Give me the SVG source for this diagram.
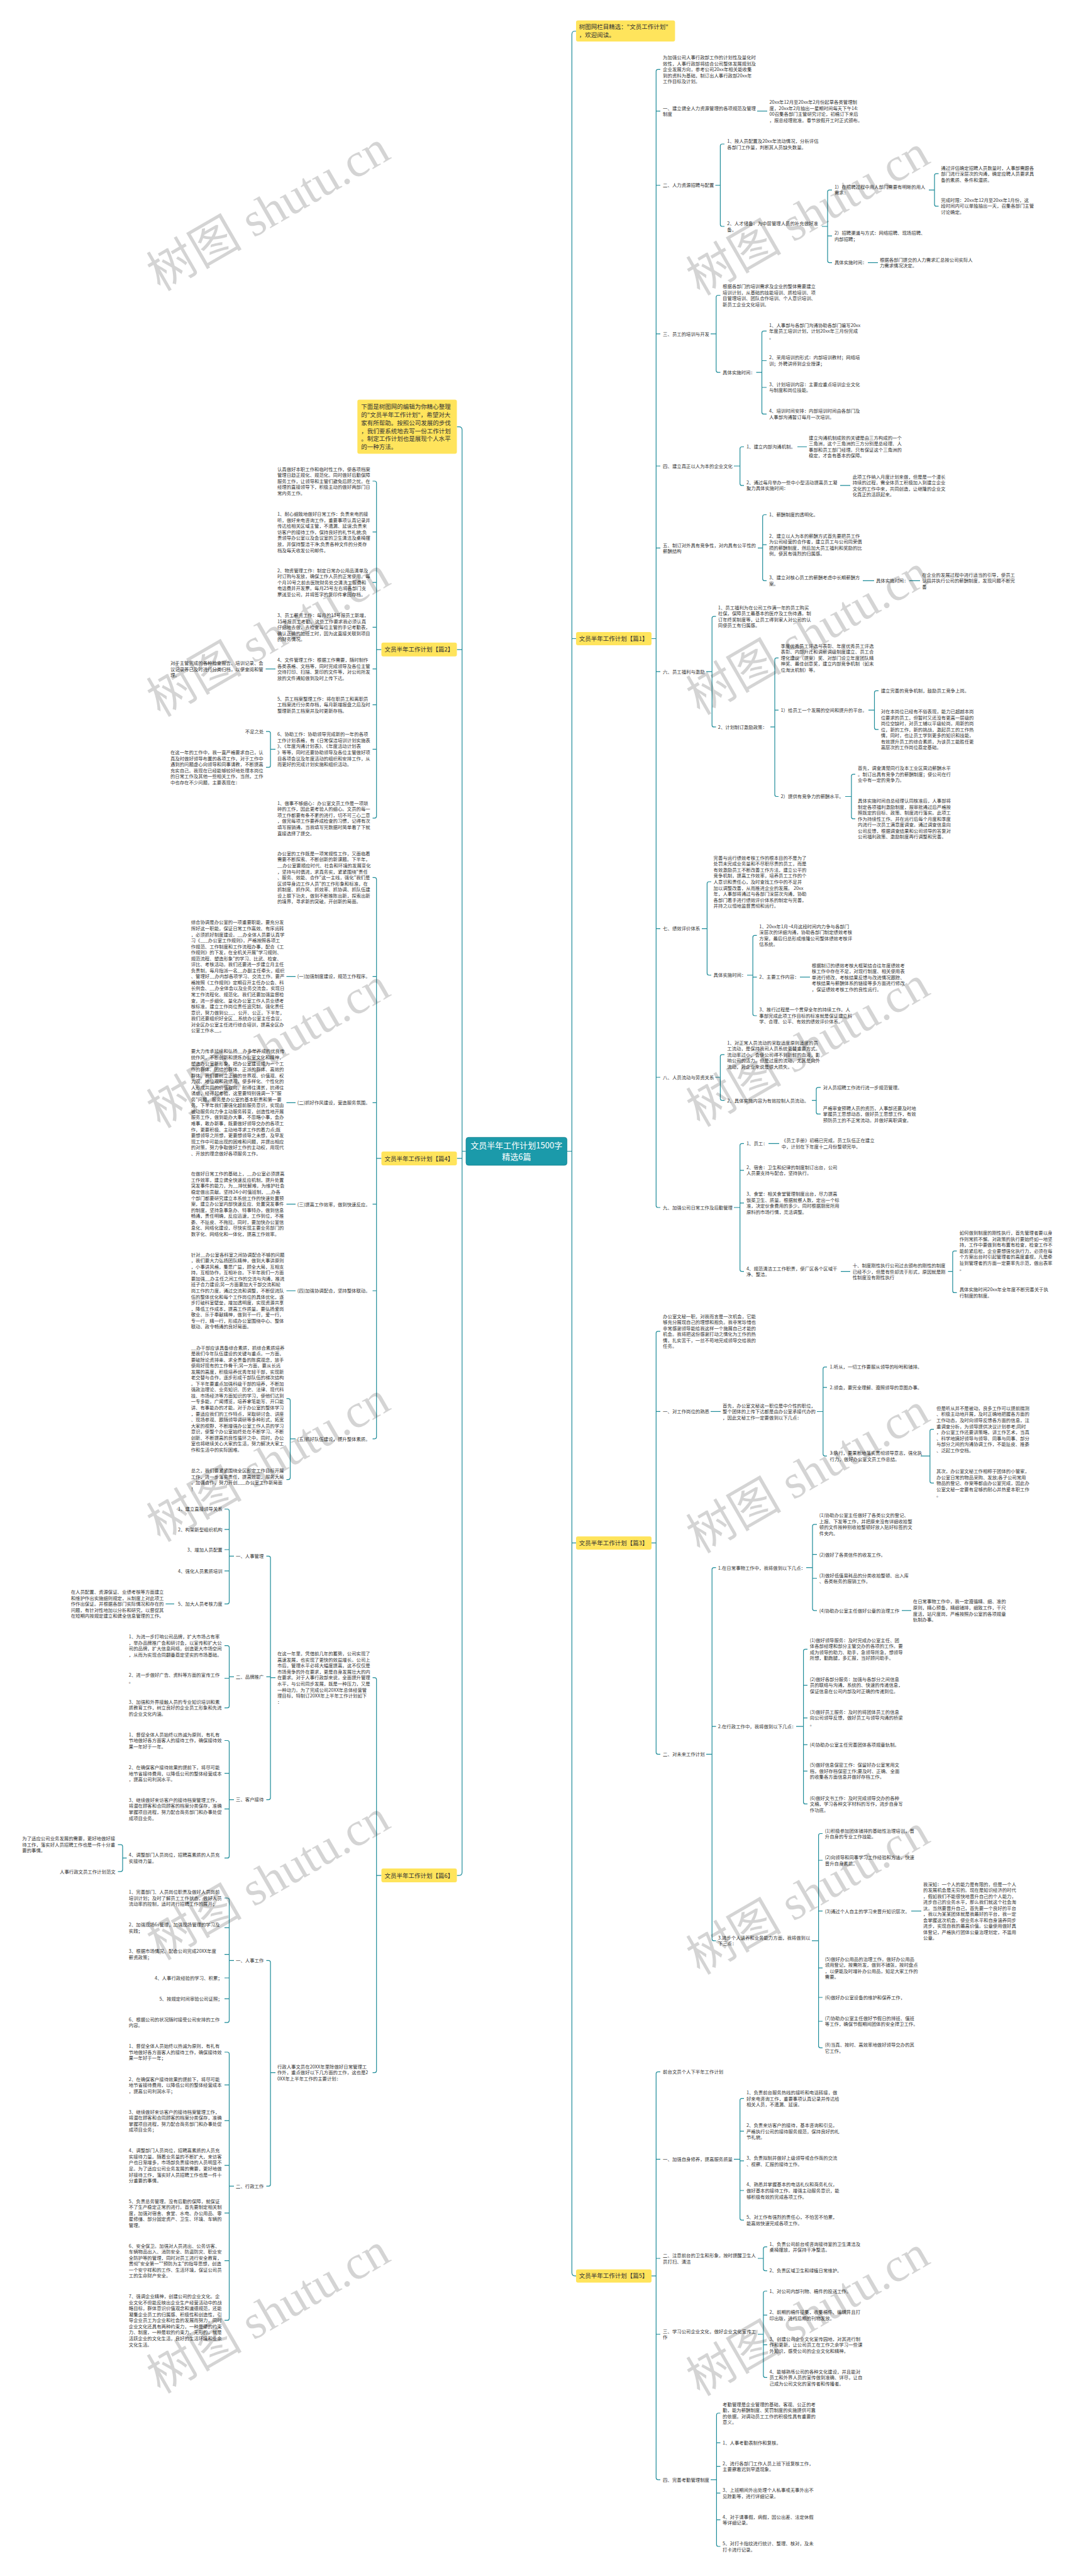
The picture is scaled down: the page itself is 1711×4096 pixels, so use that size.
<svg xmlns="http://www.w3.org/2000/svg" width="1711" height="4096" viewBox="0 0 1711 4096">
<style>
.t{font-family:"Noto Sans CJK SC","Noto Sans",sans-serif;font-size:7.4px;fill:#333}
.e{text-anchor:end}
.l{font-family:"Noto Sans CJK SC","Noto Sans",sans-serif;font-size:9.5px;fill:#333}
.y{fill:#ffe45c}
.c{fill:none;stroke:#1e8c99;stroke-width:1.2}
.w{font-family:"Liberation Serif","Noto Sans CJK SC",serif;font-size:76px;fill:#000;fill-opacity:0.17;text-anchor:middle}
</style>
<rect width="1711" height="4096" fill="#fff"/>
<g id="connectors" class="c">
<path d="M916 49.5H914.4Q909.4 49.5 909.4 54.5V3613.8Q909.4 3618.8 914.4 3618.8H916M909.4 1015.5H916M909.4 2453.4H916M901.6 1830.5H909.4"/>
<path d="M726.5 678.6H729.8Q734.8 678.6 734.8 683.6V2977.1Q734.8 2982.1 729.8 2982.1H726.5M734.8 1032.8H726.5M734.8 1841.9H726.5M740.7 1830.5H734.8"/>
<path d="M1050 110.3H1046.3Q1043.3 110.3 1043.3 113.3V1917Q1043.3 1920 1046.3 1920H1050M1036 1015.5H1043.3M1043.3 176.6H1050M1043.3 294.5H1050M1043.3 530.8H1050M1043.3 741H1050M1043.3 871.4H1050M1043.3 1067.9H1050M1043.3 1476.6H1050M1043.3 1713H1050"/>
<path d="M1204 176.6H1220"/>
<path d="M1152 229H1148.4Q1145.4 229 1145.4 232V357Q1145.4 360 1148.4 360H1152M1137.5 294.5H1145.4"/>
<path d="M1323 302.1H1319Q1316 302.1 1316 305.1V414.6Q1316 417.6 1319 417.6H1323M1307 360H1316M1316 375.2H1323"/>
<path d="M1492.5 276.1H1489Q1486 276.1 1486 279.1V324.9Q1486 327.9 1489 327.9H1492.5M1477 302.1H1486"/>
<path d="M1380 417.6H1396"/>
<path d="M1145.5 469.5H1141.8Q1138.8 469.5 1138.8 472.5V589.1Q1138.8 592.1 1141.8 592.1H1145.5M1130 530.8H1138.8"/>
<path d="M1219 526.4H1214.5Q1211.5 526.4 1211.5 529.4V655.4Q1211.5 658.4 1214.5 658.4H1219M1202.5 592.1H1211.5M1211.5 573.5H1219M1211.5 616H1219"/>
<path d="M1183 710.5H1179.7Q1176.7 710.5 1176.7 713.5V768.9Q1176.7 771.9 1179.7 771.9H1183M1167 741H1176.7"/>
<path d="M1268 710.5H1283M1336 771.9H1352"/>
<path d="M1219 818.5H1215.7Q1212.7 818.5 1212.7 821.5V920.3Q1212.7 923.3 1215.7 923.3H1219M1205 871.4H1212.7M1212.7 866.1H1219"/>
<path d="M1372 923.3H1390M1446 923.3H1463"/>
<path d="M1138.5 980.1H1135.2Q1132.2 980.1 1132.2 983.1V1152.9Q1132.2 1155.9 1135.2 1155.9H1138.5M1123 1067.9H1132.2"/>
<path d="M1238 1046.1H1235Q1232 1046.1 1232 1049.1V1263.5Q1232 1266.5 1235 1266.5H1238M1225 1155.9H1232M1232 1129.2H1238"/>
<path d="M1397 1098.3H1393.5Q1390.5 1098.3 1390.5 1101.3V1156.9Q1390.5 1159.9 1393.5 1159.9H1397M1381 1129.2H1390.5"/>
<path d="M1360 1231.1H1356.9Q1353.9 1231.1 1353.9 1234.1V1298.9Q1353.9 1301.9 1356.9 1301.9H1360M1344 1266.5H1353.9"/>
<path d="M1131 1402H1127.4Q1124.4 1402 1124.4 1405V1547.5Q1124.4 1550.5 1127.4 1550.5H1131M1116 1476.6H1124.4"/>
<path d="M1203.5 1487.4H1200.1Q1197.1 1487.4 1197.1 1490.4V1612Q1197.1 1615 1200.1 1615H1203.5M1188 1550.5H1197.1M1197.1 1553.6H1203.5"/>
<path d="M1272 1553.6H1288"/>
<path d="M1152 1676.8H1148.4Q1145.4 1676.8 1145.4 1679.8V1746.7Q1145.4 1749.7 1148.4 1749.7H1152M1137.5 1713H1145.4"/>
<path d="M1305 1729.2H1301Q1298 1729.2 1298 1732.2V1768.4Q1298 1771.4 1301 1771.4H1305M1291 1749.7H1298"/>
<path d="M1183 1818.3H1179.7Q1176.7 1818.3 1176.7 1821.3V2018.7Q1176.7 2021.7 1179.7 2021.7H1183M1167 1920H1176.7M1176.7 1860.8H1183M1176.7 1912.9H1183"/>
<path d="M1222 1818.3H1239M1337 2021.7H1352"/>
<path d="M1521.5 1989.1H1517.9Q1514.9 1989.1 1514.9 1992.1V2052.4Q1514.9 2055.4 1517.9 2055.4H1521.5M1507.5 2021.6H1514.9"/>
<path d="M1050 2116.8H1046.3Q1043.3 2116.8 1043.3 2119.8V2786.3Q1043.3 2789.3 1046.3 2789.3H1050M1036 2453.4H1043.3M1043.3 2244.3H1050"/>
<path d="M1130 2244.4H1146"/>
<path d="M1315 2173.6H1311.8Q1308.8 2173.6 1308.8 2176.6V2312.1Q1308.8 2315.1 1311.8 2315.1H1315M1299 2244.5H1308.8M1308.8 2206.1H1315"/>
<path d="M1485 2272.6H1481.8Q1478.8 2272.6 1478.8 2275.6V2355.2Q1478.8 2358.2 1481.8 2358.2H1485M1464 2315.1H1478.8"/>
<path d="M1138.5 2492.7H1135.2Q1132.2 2492.7 1132.2 2495.7V3082.9Q1132.2 3085.9 1135.2 3085.9H1138.5M1123 2789.3H1132.2M1132.2 2745.2H1138.5"/>
<path d="M1299 2423.8H1295Q1292 2423.8 1292 2426.8V2557.8Q1292 2560.8 1295 2560.8H1299M1282 2492.7H1292M1292 2471.7H1299M1292 2509.5H1299"/>
<path d="M1434 2560.8H1449"/>
<path d="M1284 2622.4H1280.6Q1277.6 2622.4 1277.6 2625.4V2865.4Q1277.6 2868.4 1280.6 2868.4H1284M1266 2745.2H1277.6M1277.6 2679.6H1284M1277.6 2731.6H1284M1277.6 2774.1H1284M1277.6 2816.2H1284"/>
<path d="M1308 2915.5H1304.6Q1301.6 2915.5 1301.6 2918.5V3253.1Q1301.6 3256.1 1304.6 3256.1H1308M1291 3085.9H1301.6M1301.6 2958H1308M1301.6 3038.7H1308M1301.6 3129.1H1308M1301.6 3176H1308M1301.6 3214H1308"/>
<path d="M1449 3038.7H1465"/>
<path d="M1050 3294.3H1046.3Q1043.3 3294.3 1043.3 3297.3V3939.8Q1043.3 3942.8 1046.3 3942.8H1050M1036 3618.8H1043.3M1043.3 3433.4H1050M1043.3 3591H1050M1043.3 3711.5H1050"/>
<path d="M1183 3336.6H1179.7Q1176.7 3336.6 1176.7 3339.6V3527.2Q1176.7 3530.2 1179.7 3530.2H1183M1167 3433.4H1176.7M1176.7 3388.6H1183M1176.7 3435.9H1183M1176.7 3483H1183"/>
<path d="M1220 3572.7H1216.9Q1213.9 3572.7 1213.9 3575.7V3607.6Q1213.9 3610.6 1216.9 3610.6H1220M1205 3591H1213.9"/>
<path d="M1220 3643H1216.9Q1213.9 3643 1213.9 3646V3777.3Q1213.9 3780.3 1216.9 3780.3H1220M1205 3711.5H1213.9M1213.9 3681.1H1220M1213.9 3728.3H1220"/>
<path d="M1145.5 3837H1142.4Q1139.4 3837 1139.4 3840V4046Q1139.4 4049 1142.4 4049H1145.5M1130 3942.8H1139.4M1139.4 3884.1H1145.5M1139.4 3921.7H1145.5M1139.4 3964.2H1145.5M1139.4 4006.7H1145.5"/>
<path d="M592.5 765H595.7Q598.7 765 598.7 768V1297.8Q598.7 1300.8 595.7 1300.8H592.5M606.5 1032.8H598.7M598.7 845.9H592.5M598.7 926.2H592.5M598.7 997.4H592.5M598.7 1063.7H592.5M598.7 1120.6H592.5M598.7 1191.3H592.5"/>
<path d="M438 1063.7H422.5"/>
<path d="M423 1163.2H427.1Q430.1 1163.2 430.1 1166.2V1217.2Q430.1 1220.2 427.1 1220.2H423M438 1191.3H430.1"/>
<path d="M592.5 1395.4H595.7Q598.7 1395.4 598.7 1398.4V2284.8Q598.7 2287.8 595.7 2287.8H592.5M606.5 1841.9H598.7M598.7 1552.6H592.5M598.7 1753.3H592.5M598.7 1914.7H592.5M598.7 2052.5H592.5"/>
<path d="M470 1552.6H455.5M470 1753.3H455.5M470 1914.7H455.5M470 2052.5H455.5"/>
<path d="M455.5 2223.9H458.5Q461.5 2223.9 461.5 2226.9V2349.6Q461.5 2352.6 458.5 2352.6H455.5M470 2287.8H461.5"/>
<path d="M592.5 2667.7H595.7Q598.7 2667.7 598.7 2670.7V3292.6Q598.7 3295.6 595.7 3295.6H592.5M606.5 2982.1H598.7"/>
<path d="M423.5 2474.3H427.1Q430.1 2474.3 430.1 2477.3V2858.6Q430.1 2861.6 427.1 2861.6H423.5M438 2667.7H430.1M430.1 2666.1H423.5"/>
<path d="M357 2399.5H361.5Q364.5 2399.5 364.5 2402.5V2547.3Q364.5 2550.3 361.5 2550.3H357M372 2474.3H364.5M364.5 2431.9H357M364.5 2464H357M364.5 2497.9H357"/>
<path d="M277 2550.3H263.5"/>
<path d="M357 2616.6H361.5Q364.5 2616.6 364.5 2619.6V2712.7Q364.5 2715.7 361.5 2715.7H357M372 2666.1H364.5M364.5 2668.5H357"/>
<path d="M357 2767.5H361.5Q364.5 2767.5 364.5 2770.5V2951.4Q364.5 2954.4 361.5 2954.4H357M372 2861.6H364.5M364.5 2819.7H357M364.5 2876.3H357"/>
<path d="M187.5 2933.1H192Q195 2933.1 195 2936.1V2972.8Q195 2975.8 192 2975.8H187.5M201.5 2954.4H195"/>
<path d="M423.5 3117.3H427.1Q430.1 3117.3 430.1 3120.3V3473.2Q430.1 3476.2 427.1 3476.2H423.5M438 3295.6H430.1"/>
<path d="M357 3018H361.5Q364.5 3018 364.5 3021V3212.8Q364.5 3215.8 361.5 3215.8H357M372 3117.3H364.5M364.5 3065.2H357M364.5 3107.6H357M364.5 3145H357M364.5 3178.1H357"/>
<path d="M357 3263H361.5Q364.5 3263 364.5 3266V3686.4Q364.5 3689.4 361.5 3689.4H357M372 3476.2H364.5M364.5 3315.2H357M364.5 3371.9H357M364.5 3443.2H357M364.5 3518.9H357M364.5 3594.6H357"/>
</g>

<g id="center"><rect x="741" y="1808.4" width="160.6" height="44.5" rx="4" fill="#1b9aaa" stroke="#15808e" stroke-width="0.8"/>
<text x="821.3" y="1826.4" text-anchor="middle" font-family="Noto Sans CJK SC, Noto Sans, sans-serif" font-size="13" fill="#fff">文员半年工作计划1500字<tspan x="821.3" dy="17.3">精选6篇</tspan></text></g>

<g id="intro-r"><rect class="y" x="916" y="32.5" width="157.4" height="33.5" rx="3"/>
<text class="l" x="920.8" y="46.3">树图网栏目精选："文员工作计划"<tspan x="920.8" dy="12.5">，欢迎阅读。</tspan></text></g>
<g id="intro-l"><rect class="y" x="568.3" y="635.6" width="158.2" height="86" rx="3"/>
<text class="l" x="574.2" y="650.2">下面是树图网的编辑为你精心整理<tspan x="574.2" dy="12.8">的"文员半年工作计划"，希望对大</tspan><tspan x="574.2" dy="12.8">家有所帮助。按照公司发展的步伐</tspan><tspan x="574.2" dy="12.8">，我们要系统地去写一份工作计划</tspan><tspan x="574.2" dy="12.8">。制定工作计划也是展现个人水平</tspan><tspan x="574.2" dy="12.8">的一种方法。</tspan></text></g>

<g id="p1"><rect class="y" x="916" y="1005" width="120" height="21" rx="3"/><text class="l" x="920.8" y="1019.1">文员半年工作计划【篇1】</text></g>
<g id="p3"><rect class="y" x="916" y="2442.9" width="120" height="21" rx="3"/><text class="l" x="920.8" y="2456.9">文员半年工作计划【篇3】</text></g>
<g id="p5"><rect class="y" x="916" y="3608.5" width="120" height="21" rx="3"/><text class="l" x="920.8" y="3622.4">文员半年工作计划【篇5】</text></g>
<g id="p2"><rect class="y" x="606.5" y="1021.8" width="120" height="22" rx="3"/><text class="l" x="611.4" y="1036.4">文员半年工作计划【篇2】</text></g>
<g id="p4"><rect class="y" x="606.5" y="1830.9" width="120" height="22" rx="3"/><text class="l" x="611.4" y="1845.5">文员半年工作计划【篇4】</text></g>
<g id="p6"><rect class="y" x="606.5" y="2971.1" width="120" height="22" rx="3"/><text class="l" x="611.4" y="2985.7">文员半年工作计划【篇6】</text></g>

<g id="p1-nodes">
<text class="t" x="1054.1" y="94">为加强公司人事行政部工作的计划性及量化时<tspan x="1054.1" dy="9.55">效性，人事行政部将结合公司整体发展规划及</tspan><tspan x="1054.1" dy="9.55">企业发展方向，参考公司20xx年相关能收集</tspan><tspan x="1054.1" dy="9.55">到的资料为基础，制订出人事行政部20xx年</tspan><tspan x="1054.1" dy="9.55">工作目标及计划。</tspan></text>
<text class="t" x="1054.1" y="174.7">一、建立健全人力资源管理的各项规范及管理<tspan x="1054.1" dy="9.55">制度</tspan></text>
<text class="t" x="1223.5" y="165.2">20xx年12月至20xx年2月份起草各类管理制<tspan x="1223.5" dy="9.55">度，20xx年2月抽出一星期时间每天下午14:</tspan><tspan x="1223.5" dy="9.55">00召集各部门主管研究讨论，初稿订下来后</tspan><tspan x="1223.5" dy="9.55">，报总经理批准。春节放假开工时正式颁布。</tspan></text>
<text class="t" x="1054.1" y="297.3">二、人力资源招聘与配置</text>
<text class="t" x="1156.3" y="227.1">1、按人员配置及20xx年流动情况，分析评估<tspan x="1156.3" dy="9.55">各部门工作量，判断其人员缺失数量。</tspan></text>
<text class="t" x="1156.3" y="358.1">2、人才储备：为中层管理人员的补充做好准<tspan x="1156.3" dy="9.55">备。</tspan></text>
<text class="t" x="1326.9" y="299.9">1）在招聘过程中用人部门需要有明晰的用人<tspan x="1326.9" dy="9.55">需求：</tspan></text>
<text class="t" x="1496.3" y="269.5">通过评估确定招聘人员数量时，人事部需跟各<tspan x="1496.3" dy="9.55">部门进行深层次的沟通，确定应聘人员要求具</tspan><tspan x="1496.3" dy="9.55">备的素质、条件和潜质。</tspan></text>
<text class="t" x="1496.3" y="320.9">完成时限：20xx年12月至20xx年1月份，这<tspan x="1496.3" dy="9.55">段时间内可以单独抽出一天，召集各部门主管</tspan><tspan x="1496.3" dy="9.55">讨论确定。</tspan></text>
<text class="t" x="1326.9" y="373.3">2）招聘渠道与方式：网络招聘、现场招聘、<tspan x="1326.9" dy="9.55">内部招聘；</tspan></text>
<text class="t" x="1326.9" y="420.4">具体实施时间：</text>
<text class="t" x="1398.9" y="415.7">根据各部门提交的人力需求汇总按公司实际人<tspan x="1398.9" dy="9.55">力需求情况决定。</tspan></text>
<text class="t" x="1054.1" y="533.6">三、员工的培训与开发</text>
<text class="t" x="1149.1" y="458.2">根据各部门的培训需求及企业的整体需要建立<tspan x="1149.1" dy="9.55">培训计划，从基础的技能培训、质检培训、项</tspan><tspan x="1149.1" dy="9.55">目管理培训、团队合作培训、个人意识培训、</tspan><tspan x="1149.1" dy="9.55">新员工企业文化培训。</tspan></text>
<text class="t" x="1149.1" y="594.9">具体实施时间：</text>
<text class="t" x="1222.9" y="519.5">1、人事部与各部门沟通协助各部门编写20xx<tspan x="1222.9" dy="9.55">年度员工培训计划，计划20xx年三月份完成</tspan><tspan x="1222.9" dy="9.55">。</tspan></text>
<text class="t" x="1222.9" y="571.3">2、采用培训的形式：内部培训教材；网络培<tspan x="1222.9" dy="9.55">训；外聘讲师到企业授课；</tspan></text>
<text class="t" x="1222.9" y="613.8">3、计划培训内容：主要应重点培训企业文化<tspan x="1222.9" dy="9.55">与制度和岗位技能。</tspan></text>
<text class="t" x="1222.9" y="656.2">4、培训时间安排：内部培训时间由各部门及<tspan x="1222.9" dy="9.55">人事部沟通暂订每月一次培训。</tspan></text>
<text class="t" x="1054.1" y="743.8">四、建立真正以人为本的企业文化</text>
<text class="t" x="1186.9" y="713.3">1、建立内部沟通机制。</text>
<text class="t" x="1286" y="698.7">建立沟通机制成败的关键是由三方构成的一个<tspan x="1286" dy="9.55">三角洲，这个三角洲的三方分别是总经理、人</tspan><tspan x="1286" dy="9.55">事部和员工部门经理。只有保证这个三角洲的</tspan><tspan x="1286" dy="9.55">稳定，才会有基本的保障。</tspan></text>
<text class="t" x="1186.9" y="769.9">2、通过每月举办一些中小型活动提高员工凝<tspan x="1186.9" dy="9.55">聚力具体实施时间：</tspan></text>
<text class="t" x="1355.7" y="760.5">此项工作纳入月度计划来做，但是是一个漫长<tspan x="1355.7" dy="9.55">持续的过程，需全体员工积极加入到建立企业</tspan><tspan x="1355.7" dy="9.55">文化的工作中来，共同创造，让继隆的企业文</tspan><tspan x="1355.7" dy="9.55">化真正的活跃起来。</tspan></text>
<text class="t" x="1054.1" y="869.5">五、制订对外具有竞争性，对内具有公平性的<tspan x="1054.1" dy="9.55">薪酬结构</tspan></text>
<text class="t" x="1222.9" y="821.3">1、薪酬制度的透明化。</text>
<text class="t" x="1222.9" y="854.8">2、建立以人为本的薪酬方式首先要把员工作<tspan x="1222.9" dy="9.55">为公司经营的合作者，建立员工与公司同荣俱</tspan><tspan x="1222.9" dy="9.55">损的薪酬制度，然后加大员工福利和奖励的比</tspan><tspan x="1222.9" dy="9.55">例，使其有强烈的归属感。</tspan></text>
<text class="t" x="1222.9" y="921.3">3、建立对核心员工的薪酬考虑中长期薪酬方<tspan x="1222.9" dy="9.55">案。</tspan></text>
<text class="t" x="1392.9" y="926.1">具体实施时间：</text>
<text class="t" x="1466.2" y="916.6">在企业的发展过程中进行适当的引导，使员工<tspan x="1466.2" dy="9.55">认同并执行公司的薪酬制度，发现问题不断完</tspan><tspan x="1466.2" dy="9.55">善</tspan></text>
<text class="t" x="1054.1" y="1070.7">六、员工福利与激励</text>
<text class="t" x="1141.8" y="968.5">1、员工福利为在公司工作满一年的员工购买<tspan x="1141.8" dy="9.55">社保，保障员工最基本的医疗及工伤待遇，制</tspan><tspan x="1141.8" dy="9.55">订年终奖制度等，让员工得到家人对公司的认</tspan><tspan x="1141.8" dy="9.55">同使员工有归属感。</tspan></text>
<text class="t" x="1141.8" y="1158.7">2、计划制订激励政策：</text>
<text class="t" x="1241.5" y="1029.8">季度优秀员工评选与表彰、年度优秀员工评选<tspan x="1241.5" dy="9.55">表彰、内部升迁和调薪调级制度建立、员工合</tspan><tspan x="1241.5" dy="9.55">理化建议（提案）奖、对部门设立年度团队精</tspan><tspan x="1241.5" dy="9.55">神奖、最佳创意奖，建立内部竞争机制（如末</tspan><tspan x="1241.5" dy="9.55">位淘汰机制）等。</tspan></text>
<text class="t" x="1241.5" y="1132">1）给员工一个发展的空间和提升的平台。</text>
<text class="t" x="1400.7" y="1101.1">建立完善的竞争机制，鼓励员工竞争上岗。</text>
<text class="t" x="1400.7" y="1134.1">对在本岗位已经有不俗表现，能力已超越本岗<tspan x="1400.7" dy="9.55">位要求的员工，但暂时又还没有更高一层级的</tspan><tspan x="1400.7" dy="9.55">岗位空缺时，对员工辅以平级轮岗，用新的岗</tspan><tspan x="1400.7" dy="9.55">位，新的工作，新的挑战，激起员工的工作热</tspan><tspan x="1400.7" dy="9.55">情，同时，也让员工学到更多的知识和技能，</tspan><tspan x="1400.7" dy="9.55">有效提升员工的综合素质，为该员工能胜任更</tspan><tspan x="1400.7" dy="9.55">高层次的工作岗位奠定基础。</tspan></text>
<text class="t" x="1241.5" y="1269.3">2）提供有竞争力的薪酬水平。</text>
<text class="t" x="1364.1" y="1224.2">首先，调查清楚同行及本工业区周边薪酬水平<tspan x="1364.1" dy="9.55">。制订出具有竞争力的薪酬制度；使公司在行</tspan><tspan x="1364.1" dy="9.55">业中有一定的竞争力。</tspan></text>
<text class="t" x="1364.1" y="1276.1">具体实施时间自总经理认同核准后，人事部将<tspan x="1364.1" dy="9.55">制定各项福利激励制度，报审批通过后严格按</tspan><tspan x="1364.1" dy="9.55">照既定的目标、政策、制度进行落实。此项工</tspan><tspan x="1364.1" dy="9.55">作为持续性工作。并在运行后每个月度和季度</tspan><tspan x="1364.1" dy="9.55">内进行一次员工满意度调查。通过调查信息向</tspan><tspan x="1364.1" dy="9.55">公司反馈，根据调查结果和公司领导的答复对</tspan><tspan x="1364.1" dy="9.55">公司福利政策、激励制度再行调整和完善。</tspan></text>
<text class="t" x="1054.1" y="1479.4">七、绩效评价体系</text>
<text class="t" x="1134.6" y="1366.8">完善与运行绩效考核工作的根本目的不是为了<tspan x="1134.6" dy="9.55">处罚未完成业务量和不尽职尽责的员工，而是</tspan><tspan x="1134.6" dy="9.55">有效激励员工不断改善工作方法，建立公平的</tspan><tspan x="1134.6" dy="9.55">竞争机制，提高工作效率，培养员工工作的个</tspan><tspan x="1134.6" dy="9.55">人意识和责任心，及时查找工作中的不足并</tspan><tspan x="1134.6" dy="9.55">加以调整改善，从而推进企业的发展。 20xx</tspan><tspan x="1134.6" dy="9.55">年，人事部将通过与各部门深层次沟通，协助</tspan><tspan x="1134.6" dy="9.55">各部门着手进行绩效评价体系的制定与完善，</tspan><tspan x="1134.6" dy="9.55">并持之以恒地监督贯彻和运行。</tspan></text>
<text class="t" x="1134.6" y="1553.3">具体实施时间：</text>
<text class="t" x="1207.3" y="1475.8">1、20xx年1月~4月这段时间内力争与各部门<tspan x="1207.3" dy="9.55">深层次的详细沟通，协助各部门制定绩效考核</tspan><tspan x="1207.3" dy="9.55">方案，最后归总形成维隆公司整体绩效考核评</tspan><tspan x="1207.3" dy="9.55">估系统。</tspan></text>
<text class="t" x="1207.3" y="1556.4">2、主要工作内容：</text>
<text class="t" x="1290.8" y="1537.6">根据制订的绩效考核大框架结合往年度绩效考<tspan x="1290.8" dy="9.55">核工作中存在不足，对现行制度、相关使用表</tspan><tspan x="1290.8" dy="9.55">单进行修改，考核结果反馈与改进情况跟踪、</tspan><tspan x="1290.8" dy="9.55">考核结果与薪酬体系的链接等多方面进行修改</tspan><tspan x="1290.8" dy="9.55">，保证绩效考核工作的良性运行。</tspan></text>
<text class="t" x="1207.3" y="1608.3">3、推行过程是一个贯穿全年的持续工作。人<tspan x="1207.3" dy="9.55">事部完成此项工作目标的标准就是保证建立科</tspan><tspan x="1207.3" dy="9.55">学、合理、公平、有效的绩效评价体系。</tspan></text>
<text class="t" x="1054.1" y="1715.8">八、人员流动与劳资关系</text>
<text class="t" x="1156.3" y="1660.8">1、对正常人员流动的采取适度原则适度的员<tspan x="1156.3" dy="9.55">工流动，是保持我司人员系统更替重要方式。</tspan><tspan x="1156.3" dy="9.55">流动率过小，会使公司得不到新鲜的血液，影</tspan><tspan x="1156.3" dy="9.55">响公司的活力。但是过度的流动，尤其是向外</tspan><tspan x="1156.3" dy="9.55">流动，对企业来说是很大损失。</tspan></text>
<text class="t" x="1156.3" y="1752.5">2、具体实施内容为有效控制人员流动。</text>
<text class="t" x="1308.8" y="1732">对人员招聘工作进行进一步规范管理。</text>
<text class="t" x="1308.8" y="1764.5">严格审查预聘人员的资历，人事部还要及时地<tspan x="1308.8" dy="9.55">掌握员工思想动态，做好员工思想工作，有效</tspan><tspan x="1308.8" dy="9.55">预防员工的不正常流动。并做好离职调查。</tspan></text>
<text class="t" x="1054.1" y="1922.8">九、加强公司日常工作及后勤管理</text>
<text class="t" x="1186.9" y="1821.1">1、员工：</text>
<text class="t" x="1242.8" y="1816.4">《员工手册》初稿已完成，员工队伍正在建立<tspan x="1242.8" dy="9.55">中，计划在下年度十二月份整顿完毕。</tspan></text>
<text class="t" x="1186.9" y="1858.8">2、宿舍：卫生和纪律的制度制订出台，公司<tspan x="1186.9" dy="9.55">人员要支持与配合，坚持执行。</tspan></text>
<text class="t" x="1186.9" y="1901.3">3、食堂：相关食堂管理制度出台，尽力提高<tspan x="1186.9" dy="9.55">饭菜卫生、质量。根据就餐人数，定出一个标</tspan><tspan x="1186.9" dy="9.55">准，决定伙食费用的多少。同时根据厨房所用</tspan><tspan x="1186.9" dy="9.55">原料的市场行情，灵活调整。</tspan></text>
<text class="t" x="1186.9" y="2019.7">4、规范清洁工工作职责，使厂区各个区域干<tspan x="1186.9" dy="9.55">净、整洁。</tspan></text>
<text class="t" x="1355.7" y="2015">十、制度刚性执行公司过去颁布的刚性的制度<tspan x="1355.7" dy="9.55">已经不少，但是有些却流于形式，原因就是刚</tspan><tspan x="1355.7" dy="9.55">性制度没有刚性执行</tspan></text>
<text class="t" x="1525.7" y="1963.1">如何做到制度的刚性执行，首先管理者要以身<tspan x="1525.7" dy="9.55">作则常抓不懈。对政策的执行要始终如一地坚</tspan><tspan x="1525.7" dy="9.55">持，工作中要做到有布置有检查，检查工作不</tspan><tspan x="1525.7" dy="9.55">能前紧后松，企业要想强化执行力，必须在每</tspan><tspan x="1525.7" dy="9.55">个方案出台时引起管理者的高度重视，凡是牵</tspan><tspan x="1525.7" dy="9.55">扯到管理者的方面一定要率先示范，做出表率</tspan><tspan x="1525.7" dy="9.55">。</tspan></text>
<text class="t" x="1525.7" y="2053.2">具体实施时间20xx年全年度不断完善关于执<tspan x="1525.7" dy="9.55">行制度的制度。</tspan></text>
</g>

<g id="p3-nodes">
<text class="t" x="1054.1" y="2095.7">办公室文秘一职，对我而言是一次机会，它能<tspan x="1054.1" dy="9.55">够充分展现自己的理想和抱负。我非常珍惜也</tspan><tspan x="1054.1" dy="9.55">非常感谢领导能给我这样一个施展自己才能的</tspan><tspan x="1054.1" dy="9.55">机会。我将把这份感谢打动之情化为工作的热</tspan><tspan x="1054.1" dy="9.55">情，扎实苦干，一丝不苟地完成领导交给我的</tspan><tspan x="1054.1" dy="9.55">任务。</tspan></text>
<text class="t" x="1054.1" y="2247.1">一、对工作岗位的熟悉</text>
<text class="t" x="1149.1" y="2237.7">首先，办公室文秘这一职位是中介性的职位，<tspan x="1149.1" dy="9.55">整个团体的上传下达都是由办公室承接代办的</tspan><tspan x="1149.1" dy="9.55">，因此文秘工作一定要做到以下几点：</tspan></text>
<text class="t" x="1319.6" y="2176.4">1.听从，一切工作要服从领导的吩咐和铺排。</text>
<text class="t" x="1319.6" y="2208.9">2.领会，要完全理解、遵照领导的意图办事。</text>
<text class="t" x="1319.6" y="2313.2">3.执行，要果断地落实贯彻领导意志，强化执<tspan x="1319.6" dy="9.55">行力，做好办公室文员工作总结。</tspan></text>
<text class="t" x="1489" y="2241.9">但是听从并不是被动，良多工作可以提前揣测<tspan x="1489" dy="9.55">、积极主动地开展，及时正确地把握各方面的</tspan><tspan x="1489" dy="9.55">工作动态，及时向领导反馈各方面的信息，注</tspan><tspan x="1489" dy="9.55">重调查分析，为领导提供决议计划参考;同时</tspan><tspan x="1489" dy="9.55">，办公室工作还要讲策略，讲工作艺术，当真</tspan><tspan x="1489" dy="9.55">、科学地搞好领导与领导、同事与同事、部分</tspan><tspan x="1489" dy="9.55">与部分之间的沟通协调工作，不能扯皮、推委</tspan><tspan x="1489" dy="9.55">、泛起工作空档。</tspan></text>
<text class="t" x="1489" y="2342">其次，办公室文秘工作相称于团体的小管家，<tspan x="1489" dy="9.55">办公室日常的物品采购、发放;各子公司常用</tspan><tspan x="1489" dy="9.55">物品的登记、存案等都由办公室完成，因此办</tspan><tspan x="1489" dy="9.55">公室文秘一定要有足够的耐心并热爱本职工作</tspan><tspan x="1489" dy="9.55">。</tspan></text>
<text class="t" x="1054.1" y="2792.1">二、对未来工作计划</text>
<text class="t" x="1141.8" y="2495.5">1.在日常事物工作中，我将做到以下几点：</text>
<text class="t" x="1302.8" y="2412.2">(1)协助办公室主任做好了各类公文的登记、<tspan x="1302.8" dy="9.55">上报、下发等工作，并把原来没有详细收拾整</tspan><tspan x="1302.8" dy="9.55">顿的文件按种别收拾整顿好放入贴好标签的文</tspan><tspan x="1302.8" dy="9.55">件夹内。</tspan></text>
<text class="t" x="1302.8" y="2474.5">(2)做好了各类信件的收发工作。</text>
<text class="t" x="1302.8" y="2507.5">(3)做好低值易耗品的分类收拾整顿、出入库<tspan x="1302.8" dy="9.55">、各类帐务的报销工作。</tspan></text>
<text class="t" x="1302.8" y="2563.6">(4)协助办公室主任做好公章的治理工作</text>
<text class="t" x="1451.8" y="2549.4">在日常事物工作中，我一定遵循精、细、准的<tspan x="1451.8" dy="9.55">原则，精心预备，精细铺排，细致工作，干尺</tspan><tspan x="1451.8" dy="9.55">度活，站尺度岗，严格按照办公室的各项规章</tspan><tspan x="1451.8" dy="9.55">轨制办事。</tspan></text>
<text class="t" x="1141.8" y="2748">2.在行政工作中，我将做到以下几点：</text>
<text class="t" x="1287.8" y="2610.8">(1)做好领导服务：及时完成办公室主任、团<tspan x="1287.8" dy="9.55">体各部经理和部分主管交办的各项的工作。要</tspan><tspan x="1287.8" dy="9.55">成为领导的助力、助手，急领导所急，想领导</tspan><tspan x="1287.8" dy="9.55">所想，勤跑腿，多汇报，当好顾问助手。</tspan></text>
<text class="t" x="1287.8" y="2672.6">(2)做好各部分服务：加强与各部分之间信息<tspan x="1287.8" dy="9.55">员的联络与沟通，系统的、快速的传递信息，</tspan><tspan x="1287.8" dy="9.55">保证信息在公司内部及时正确的传递到位。</tspan></text>
<text class="t" x="1287.8" y="2724.5">(3)做好员工服务：及时的将团体员工的信息<tspan x="1287.8" dy="9.55">向公司领导反馈，做好员工与领导沟通的桥梁</tspan><tspan x="1287.8" dy="9.55">。</tspan></text>
<text class="t" x="1287.8" y="2776.9">(4)协助办公室主任完善团体各项规章轨制。</text>
<text class="t" x="1287.8" y="2809.3">(5)做好信息保密工作：保留好办公室常用文<tspan x="1287.8" dy="9.55">档，做好存档保密工作;要及时、正确、全面</tspan><tspan x="1287.8" dy="9.55">的收集各方面信息并做好存档工作。</tspan></text>
<text class="t" x="1287.8" y="2861.7">(6)做好文书工作：及时完成领导交办的各种<tspan x="1287.8" dy="9.55">文稿，学习各种文字材料的写作，进步自身写</tspan><tspan x="1287.8" dy="9.55">作功底。</tspan></text>
<text class="t" x="1141.8" y="3083.9">3.进步个人涵养和业务能力方面，我将做到以<tspan x="1141.8" dy="9.55">下三点：</tspan></text>
<text class="t" x="1311.8" y="2913.6">(1)积极参加团体铺排的基础性治理培训，晋<tspan x="1311.8" dy="9.55">升自身的专业工作技能。</tspan></text>
<text class="t" x="1311.8" y="2956.1">(2)向领导和同事学习工作经验和方法，快速<tspan x="1311.8" dy="9.55">晋升自身素质。</tspan></text>
<text class="t" x="1311.8" y="3041.5">(3)通过个人自主的学习来晋升知识层次。</text>
<text class="t" x="1468" y="2998.5">我深知：一个人的能力是有限的，但是一个人<tspan x="1468" dy="9.55">的发展机会是无穷的。现在是知识经济的时代</tspan><tspan x="1468" dy="9.55">，假如我们不能很快地晋升自己的个人能力，</tspan><tspan x="1468" dy="9.55">进步自己的业务水平，那么我们就这个社会淘</tspan><tspan x="1468" dy="9.55">汰。当然要晋升自己，首先要一个良好的平台</tspan><tspan x="1468" dy="9.55">，我以为某某团体就是我最好的平台，我一定</tspan><tspan x="1468" dy="9.55">会掌握这次机会，使业务水平和自身涵养同步</tspan><tspan x="1468" dy="9.55">进步，实现自我的最高价值。公章使用做好具</tspan><tspan x="1468" dy="9.55">体登记，严格执行团体公章治理划定，不滥用</tspan><tspan x="1468" dy="9.55">公章。</tspan></text>
<text class="t" x="1311.8" y="3117.5">(5)做好办公用品的治理工作。做好办公用品<tspan x="1311.8" dy="9.55">领用登记，按需所发，做到不铺张，按时盘点</tspan><tspan x="1311.8" dy="9.55">，以便能及时增补办公用品，知足大家工作的</tspan><tspan x="1311.8" dy="9.55">需要。</tspan></text>
<text class="t" x="1311.8" y="3178.8">(6)做好办公室设备的维护和保养工作，</text>
<text class="t" x="1311.8" y="3211.8">(7)协助办公室主任做好节假日的排班、值班<tspan x="1311.8" dy="9.55">等工作，确保节假期间团体的安全捍卫工作。</tspan></text>
<text class="t" x="1311.8" y="3254.2">(8)当真、按时、高效率地做好领导交办的其<tspan x="1311.8" dy="9.55">它工作。</tspan></text>
</g>

<g id="p5-nodes">
<text class="t" x="1054.1" y="3297.1">前台文员个人下半年工作计划</text>
<text class="t" x="1054.1" y="3436.2">一、加强自身修养，提高服务质量</text>
<text class="t" x="1186.9" y="3330.1">1、负责前台服务热线的接听和电话转接，做<tspan x="1186.9" dy="9.55">好来电咨询工作，重要事项认真记录并传达给</tspan><tspan x="1186.9" dy="9.55">相关人员，不遗漏、延误。</tspan></text>
<text class="t" x="1186.9" y="3382.1">2、负责来访客户的接待，基本咨询和引见，<tspan x="1186.9" dy="9.55">严格执行公司的接待服务规范，保持良好的礼</tspan><tspan x="1186.9" dy="9.55">节礼貌。</tspan></text>
<text class="t" x="1186.9" y="3434.1">3、负责拟制并做好上级领导或合作商的交流<tspan x="1186.9" dy="9.55">、视察、汇报的接待工作。</tspan></text>
<text class="t" x="1186.9" y="3476.4">4、熟悉并掌握基本的电话礼仪和商务礼仪，<tspan x="1186.9" dy="9.55">做好基本的接待工作。增强主动服务意识，能</tspan><tspan x="1186.9" dy="9.55">够积极有效的完成各项工作。</tspan></text>
<text class="t" x="1186.9" y="3528.4">5、对工作有强烈的责任心，不怕苦不怕累，<tspan x="1186.9" dy="9.55">能高效快速完成各项工作。</tspan></text>
<text class="t" x="1054.1" y="3589.2">二、注意前台的卫生和形象，按时提醒卫生人<tspan x="1054.1" dy="9.55">员打扫、清洁</tspan></text>
<text class="t" x="1223.5" y="3570.6">1、负责公司前台或咨询接待室的卫生清洁及<tspan x="1223.5" dy="9.55">桌椅摆放，并保持干净整洁。</tspan></text>
<text class="t" x="1223.5" y="3613.4">2、负责区域卫生和绿植日常维护。</text>
<text class="t" x="1054.1" y="3709.7">三、学习公司企业文化，做好企业文化宣传工<tspan x="1054.1" dy="9.55">作</tspan></text>
<text class="t" x="1223.5" y="3645.8">1、对公司内部刊物、稿件的投送工作。</text>
<text class="t" x="1223.5" y="3679.3">2、前期的稿件征集，收集稿件、编辑并且打<tspan x="1223.5" dy="9.55">印出版，进行后期的刊物发放。</tspan></text>
<text class="t" x="1223.5" y="3721.6">3、创建公司企业文化宣传园地，对其进行制<tspan x="1223.5" dy="9.55">作和更新，让公司员工在工作之余学习一些课</tspan><tspan x="1223.5" dy="9.55">外知识，感受公司的企业文化和精神。</tspan></text>
<text class="t" x="1223.5" y="3773.6">4、能够熟练公司的各种文化建设，并且能对<tspan x="1223.5" dy="9.55">员工和外界人员的宣传做到准确、详尽，让自</tspan><tspan x="1223.5" dy="9.55">己成为公司文化的宣传者和传播者。</tspan></text>
<text class="t" x="1054.1" y="3945.6">四、完善考勤管理制度</text>
<text class="t" x="1149.1" y="3825.6">考勤管理是企业管理的基础，客观、公正的考<tspan x="1149.1" dy="9.55">勤，能为薪酬制度、奖罚制度的实施提供可靠</tspan><tspan x="1149.1" dy="9.55">的依据，对调动员工工作的积极性具有重要的</tspan><tspan x="1149.1" dy="9.55">意义。</tspan></text>
<text class="t" x="1149.1" y="3886.9">1、人事考勤表制作和复核。</text>
<text class="t" x="1149.1" y="3919.9">2、进行各部门工作人员上班下班复核工作，<tspan x="1149.1" dy="9.55">主要察看迟到早退现象。</tspan></text>
<text class="t" x="1149.1" y="3962.1">3、上班期间外出处理个人私事或无事外出不<tspan x="1149.1" dy="9.55">见踪影等，进行详细记录。</tspan></text>
<text class="t" x="1149.1" y="4004.9">4、对于请事假，病假，因公出差、法定休假<tspan x="1149.1" dy="9.55">等详细记录。</tspan></text>
<text class="t" x="1149.1" y="4047.1">5、对打卡指纹进行统计、整理、核对，及未<tspan x="1149.1" dy="9.55">打卡进行记录。</tspan></text>
</g>

<g id="p2-nodes">
<text class="t" x="440.9" y="748.5">认真做好本职工作和临时性工作，使各项档案<tspan x="440.9" dy="9.55">管理日趋正规化、规范化。同时做好后勤保障</tspan><tspan x="440.9" dy="9.55">服务工作，让领导和主管们避免后顾之忧。在</tspan><tspan x="440.9" dy="9.55">经理的直接领导下，积极主动的做好两部门日</tspan><tspan x="440.9" dy="9.55">常内务工作。</tspan></text>
<text class="t" x="440.9" y="820.2">1、耐心细致地做好日常工作：负责来电的接<tspan x="440.9" dy="9.55">听，做好来电咨询工作，重要事项认真记录并</tspan><tspan x="440.9" dy="9.55">传达给相关区域主管，不遗漏、延误;负责来</tspan><tspan x="440.9" dy="9.55">访客户的接待工作，保持良好的礼节礼貌;负</tspan><tspan x="440.9" dy="9.55">责领导办公室以及会议室的卫生清洁及桌椅摆</tspan><tspan x="440.9" dy="9.55">放，并保持整洁干净;负责各种文件的分类存</tspan><tspan x="440.9" dy="9.55">档及每天收发公司邮件。</tspan></text>
<text class="t" x="440.9" y="909.8">2、物资管理工作：制定日常办公用品清单及<tspan x="440.9" dy="9.55">时订购与发放，确保工作人员的正常使用。每</tspan><tspan x="440.9" dy="9.55">个月10号之前去医院财务处交清洗工服费和</tspan><tspan x="440.9" dy="9.55">电话费并开发票。每月25号左右将各部门支</tspan><tspan x="440.9" dy="9.55">票送至公司，并将签字的复印件拿回存档。</tspan></text>
<text class="t" x="440.9" y="981.1">3、员工薪资工作：每月的13号报员工新增，<tspan x="440.9" dy="9.55">15号报员工考勤。这些工作要求我必须认真</tspan><tspan x="440.9" dy="9.55">仔细地去做，去检查每位主管的手记考勤表，</tspan><tspan x="440.9" dy="9.55">确认正确的加班工时，因为这直接关联到项目</tspan><tspan x="440.9" dy="9.55">的财务情况。</tspan></text>
<text class="t" x="440.9" y="1052.3">4、文件管理工作：根据工作需要，随时制作<tspan x="440.9" dy="9.55">各类表格、文档等，同时完成领导及各位主管</tspan><tspan x="440.9" dy="9.55">交待打印、扫描、复印的文件等，对公司所发</tspan><tspan x="440.9" dy="9.55">放的文件通知做到及时上传下达。</tspan></text>
<text class="t" x="270.9" y="1057.1">对于主管完成的各种检查报告、培训记录、会<tspan x="270.9" dy="9.55">议记录等已及时进行分类归档，以便查阅和管</tspan><tspan x="270.9" dy="9.55">理。</tspan></text>
<text class="t" x="440.9" y="1113.7">5、员工档案整理工作：将在职员工和离职员<tspan x="440.9" dy="9.55">工档案进行分类存档，每月新增报盘之后及时</tspan><tspan x="440.9" dy="9.55">整理新员工档案并及时更新存档。</tspan></text>
<text class="t" x="440.9" y="1170.3">6、协助工作：协助领导完成新的一年的各项<tspan x="440.9" dy="9.55">工作计划表格，有《日常保洁培训计划实施表</tspan><tspan x="440.9" dy="9.55">》、《年度沟通计划表》、《年度活动计划表</tspan><tspan x="440.9" dy="9.55">》等等，同时还要协助领导及各位主管做好项</tspan><tspan x="440.9" dy="9.55">目各项会议及年度活动的组织和安排工作，从</tspan><tspan x="440.9" dy="9.55">而更好的完成计划实施和组织活动。</tspan></text>
<text class="t e" x="419.4" y="1166">不足之处</text>
<text class="t" x="270.9" y="1199.1">在这一年的工作中，我一直严格要求自己，认<tspan x="270.9" dy="9.55">真及时做好领导布置的各项工作，对于工作中</tspan><tspan x="270.9" dy="9.55">遇到的问题虚心向领导和同事请教，不断提高</tspan><tspan x="270.9" dy="9.55">充实自己。我现在已经能够较好地处理本岗位</tspan><tspan x="270.9" dy="9.55">的日常工作及其他一些相关工作，当然，工作</tspan><tspan x="270.9" dy="9.55">中也存在不少问题，主要表现在：</tspan></text>
<text class="t" x="440.9" y="1279.8">1、做事不够细心：办公室文员工作是一项琐<tspan x="440.9" dy="9.55">碎的工作，因此更考验人的细心。文员的每一</tspan><tspan x="440.9" dy="9.55">项工作都要有条不紊的进行，切不可三心二意</tspan><tspan x="440.9" dy="9.55">，做完每项工作要养成检查的习惯，记得有次</tspan><tspan x="440.9" dy="9.55">填写报销通，当我填写完数据时简单看了下就</tspan><tspan x="440.9" dy="9.55">直接选择了提交。</tspan></text>
</g>

<g id="p4-nodes">
<text class="t" x="440.9" y="1359.9">办公室的工作既是一项常规性工作，又面临着<tspan x="440.9" dy="9.55">需要不断探索、不断创新的新课题。下半年，</tspan><tspan x="440.9" dy="9.55">__办公室要顺应时代、社会和环境的发展变化</tspan><tspan x="440.9" dy="9.55">，坚持与时俱进，求真务实，紧紧围绕"责任</tspan><tspan x="440.9" dy="9.55">、服务、效能、合作"这一主线，强化"我们是</tspan><tspan x="440.9" dy="9.55">区领导身边工作人员"的工作形象和标准，在</tspan><tspan x="440.9" dy="9.55">抓制度、抓作风、抓效率、抓协调、抓队伍建</tspan><tspan x="440.9" dy="9.55">设上狠下功夫，做到不断推陈出新，探索出新</tspan><tspan x="440.9" dy="9.55">的境界，寻求新的突破，开创新的局面。</tspan></text>
<text class="t" x="472.8" y="1555.4">(一)加强制度建设，规范工作程序。</text>
<text class="t" x="303.7" y="1469.4">综合协调是办公室的一项重要职能，要充分发<tspan x="303.7" dy="9.55">挥好这一职能，保证日常工作高效、有序运转</tspan><tspan x="303.7" dy="9.55">，必须抓好制度建设。__办全体人员要认真学</tspan><tspan x="303.7" dy="9.55">习《___办公室工作规则》，严格按照各项工</tspan><tspan x="303.7" dy="9.55">作规范、工作制度和工作流程办事，配合《工</tspan><tspan x="303.7" dy="9.55">作规则》的下发，在全机关开展"学习规则、</tspan><tspan x="303.7" dy="9.55">规范流程、塑造形象"的学习、比武、检查、</tspan><tspan x="303.7" dy="9.55">评比、考核活动。我们还要进一步建立月主任</tspan><tspan x="303.7" dy="9.55">负责制，每月指派一名__办副主任牵头，组织</tspan><tspan x="303.7" dy="9.55">、管理好__办内部各项学习、交流工作。要严</tspan><tspan x="303.7" dy="9.55">格按照《工作规则》定期召开主任办公会、科</tspan><tspan x="303.7" dy="9.55">长例会、__办全体会以及业务交流会，实现日</tspan><tspan x="303.7" dy="9.55">常工作流程化、规范化。我们还要加强监督检</tspan><tspan x="303.7" dy="9.55">查，进一步细化、量化办公室工作人员业绩考</tspan><tspan x="303.7" dy="9.55">核标准，建立工作岗位责任追究制，强化责任</tspan><tspan x="303.7" dy="9.55">意识，努力做到公__、公开、公正。下半年，</tspan><tspan x="303.7" dy="9.55">我们还要组织好全区__系统办公室主任会议，</tspan><tspan x="303.7" dy="9.55">对全区办公室主任进行综合培训，提高全区办</tspan><tspan x="303.7" dy="9.55">公室工作水__。</tspan></text>
<text class="t" x="472.8" y="1756.1">(二)抓好作风建设，营造服务氛围。</text>
<text class="t" x="303.7" y="1674.4">要大力传承延续和弘扬__办多年养成的优良传<tspan x="303.7" dy="9.55">统作风，不断创新和提炼办公室文化和精神，</tspan><tspan x="303.7" dy="9.55">塑造办公室新形象，把办公室建设成为一个工</tspan><tspan x="303.7" dy="9.55">作的群体、团结的群体、正派的群体、高效的</tspan><tspan x="303.7" dy="9.55">群体。我们要树立正确的世界观、价值观、权</tspan><tspan x="303.7" dy="9.55">力观、地位观和政绩观，使多样化、个性化的</tspan><tspan x="303.7" dy="9.55">人形成共同的价值取向，耐得住清贫，抗得住</tspan><tspan x="303.7" dy="9.55">诱惑，经得起考验，这里要特别强调一下"服</tspan><tspan x="303.7" dy="9.55">务"问题，服务是办公室的基本职责和第一要</tspan><tspan x="303.7" dy="9.55">务，下半年我们要强化超前服务意识，实现由</tspan><tspan x="303.7" dy="9.55">被动服务向力争主动服务转变，创造性地开展</tspan><tspan x="303.7" dy="9.55">服务工作，做到能办大事，不忽略小事，会办</tspan><tspan x="303.7" dy="9.55">难事，敢办新事，既要做好领导交办的各项工</tspan><tspan x="303.7" dy="9.55">作，更要积极、主动地寻求工作的着力点;既</tspan><tspan x="303.7" dy="9.55">要想领导之所想，更要想领导之未想，及早发</tspan><tspan x="303.7" dy="9.55">现工作中可能出现的困难和问题，并提出相应</tspan><tspan x="303.7" dy="9.55">的对策，努力争取做好工作的主动权，用现代</tspan><tspan x="303.7" dy="9.55">、开放的理念做好各项服务工作。</tspan></text>
<text class="t" x="472.8" y="1917.5">(三)提高工作效率，做到快速反应。</text>
<text class="t" x="303.7" y="1869.3">在做好日常工作的基础上，__办公室必须提高<tspan x="303.7" dy="9.55">工作效率，建立健全快速反应机制，提升处置</tspan><tspan x="303.7" dy="9.55">突发事件的能力，为__排忧解难，为维护社会</tspan><tspan x="303.7" dy="9.55">稳定做出贡献。坚持24小时值班制，__办各</tspan><tspan x="303.7" dy="9.55">个部门都要研究建立本系统工作的快速处置预</tspan><tspan x="303.7" dy="9.55">案，建立办公室内部快速反应、处置突发事件</tspan><tspan x="303.7" dy="9.55">的制度，坚持急事急办、特事特办，做到信息</tspan><tspan x="303.7" dy="9.55">畅通，责任明确，反应迅速，工作到位，不推</tspan><tspan x="303.7" dy="9.55">委、不扯皮、不拖拉。同时，要加快办公室信</tspan><tspan x="303.7" dy="9.55">息化、网络化建设，尽快实现主要业务部门的</tspan><tspan x="303.7" dy="9.55">数字化、网络化和一体化，提高工作效率。</tspan></text>
<text class="t" x="472.8" y="2055.3">(四)加强协调配合，坚持整体联动。</text>
<text class="t" x="303.7" y="1997.7">针对__办公室各科室之间协调配合不够的问题<tspan x="303.7" dy="9.55">，我们要大力弘扬团队精神，做到大事讲原则</tspan><tspan x="303.7" dy="9.55">，小事讲风格，集思广益，顾全大局，互相支</tspan><tspan x="303.7" dy="9.55">持，互相协作，互相补台。下半年我们一方面</tspan><tspan x="303.7" dy="9.55">要加强__办主任之间工作的交流与沟通，推进</tspan><tspan x="303.7" dy="9.55">班子合力建设;另一方面要加大干部交流和轮</tspan><tspan x="303.7" dy="9.55">岗工作的力度，通过交流和调整，不断促进队</tspan><tspan x="303.7" dy="9.55">伍的整体优化和每个工作岗位的具体优化，逐</tspan><tspan x="303.7" dy="9.55">步打破科室壁垒，增加透明度，实现资源共享</tspan><tspan x="303.7" dy="9.55">，降低工作成本，提高工作质量。要弘扬爱岗</tspan><tspan x="303.7" dy="9.55">敬业、乐于奉献精神，做到干一行，爱一行，</tspan><tspan x="303.7" dy="9.55">专一行，精一行，形成办公室围绕中心、整体</tspan><tspan x="303.7" dy="9.55">联动、政令畅通的良好局面。</tspan></text>
<text class="t" x="472.8" y="2290.6">(五)抓好队伍建设，提升整体素质。</text>
<text class="t" x="303.7" y="2145.5">__办干部应该具备综合素质，抓综合素质培养<tspan x="303.7" dy="9.55">是我们今年队伍建设的关键与重点。一方面，</tspan><tspan x="303.7" dy="9.55">要破除论资排辈、求全责备的陈腐观念，放手</tspan><tspan x="303.7" dy="9.55">使用好现有的工作骨干;另一方面，要从长远</tspan><tspan x="303.7" dy="9.55">发展的高度，积极培养优秀年轻干部，实现新</tspan><tspan x="303.7" dy="9.55">老交替与合作，逐步形成干部队伍的梯次结构</tspan><tspan x="303.7" dy="9.55">。下半年要重点加强科级干部的培养，不断加</tspan><tspan x="303.7" dy="9.55">强政治理论、业务知识、历史、法律、现代科</tspan><tspan x="303.7" dy="9.55">技、市场经济等方面知识的学习，使他们达到</tspan><tspan x="303.7" dy="9.55">一专多能，广闻博览，培养拿笔能写、开口能</tspan><tspan x="303.7" dy="9.55">讲、有事能办的才能。对于办公室的整体学习</tspan><tspan x="303.7" dy="9.55">，要适应我们的工作特点，采取研讨会、讲座</tspan><tspan x="303.7" dy="9.55">、现场参观、跟随领导调研等多种形式，拓宽</tspan><tspan x="303.7" dy="9.55">大家的视野，不断增强办公室工作人员的学习</tspan><tspan x="303.7" dy="9.55">意识，使整个办公室始终处在不断学习、不断</tspan><tspan x="303.7" dy="9.55">创新、不断提高的良性循环之中。同时，办公</tspan><tspan x="303.7" dy="9.55">室也将继续关心大家的生活，努力解决大家工</tspan><tspan x="303.7" dy="9.55">作和生活中的实际困难。</tspan></text>
<text class="t" x="303.7" y="2341">总之，我们要紧紧围绕全区即定工作目标开展<tspan x="303.7" dy="9.55">工作，进一步落实责任，提高效能，服务大局</tspan><tspan x="303.7" dy="9.55">，加强合作，努力开创___办公室工作新局面</tspan><tspan x="303.7" dy="9.55">！</tspan></text>
</g>

<g id="p6-nodes">
<text class="t" x="440.9" y="2632.2">在这一年里，凭借前几年的蓄势，公司实现了<tspan x="440.9" dy="9.55">高速发展，也实现了更快的效益增长。公司上</tspan><tspan x="440.9" dy="9.55">市后，管理水平必将大幅度提高，这不仅仅是</tspan><tspan x="440.9" dy="9.55">市场竞争的外在要求，更是自身发展壮大的内</tspan><tspan x="440.9" dy="9.55">在要求。对于人事行政部来说，全面提升管理</tspan><tspan x="440.9" dy="9.55">水平，与公司同步发展，既是一种压力，又是</tspan><tspan x="440.9" dy="9.55">一种动力。为了完成公司20XX年总体经营管</tspan><tspan x="440.9" dy="9.55">理目标，特制订20XX年上半年工作计划如下</tspan><tspan x="440.9" dy="9.55">：</tspan></text>
<text class="t e" x="419.4" y="2477.1">一、人事管理</text>
<text class="t e" x="353.7" y="2402.3">1、建立直接领导关系</text>
<text class="t e" x="353.7" y="2434.7">2、构架新型组织机构</text>
<text class="t e" x="353.7" y="2466.8">3、增加人员配置</text>
<text class="t e" x="353.7" y="2500.7">4、强化人员素质培训</text>
<text class="t e" x="353.7" y="2553.1">5、加大人员考核力度</text>
<text class="t" x="112.7" y="2534.2">在人员配置、资源保证、业绩考核等方面建立<tspan x="112.7" dy="9.55">和维护作出实施细则规定，从制度上对此项工</tspan><tspan x="112.7" dy="9.55">作作出保证。并根据各部门实际情况和存在的</tspan><tspan x="112.7" dy="9.55">问题，有针对性地加以分析和研究，以督促其</tspan><tspan x="112.7" dy="9.55">在短期内按规定建立和健全信息管理的工作。</tspan></text>
<text class="t e" x="419.4" y="2668.9">二、品牌推广</text>
<text class="t" x="204.8" y="2605">1、为进一步打响公司品牌，扩大市场占有率<tspan x="204.8" dy="9.55">，举办品牌推广会和研讨会，以宣传和扩大公</tspan><tspan x="204.8" dy="9.55">司的品牌，扩大信息网络，创造更大市场空间</tspan><tspan x="204.8" dy="9.55">，从而为实现合同翻番奠定坚实的市场基础。</tspan></text>
<text class="t" x="204.8" y="2666.3">2、进一步做好广告、资料等方面的宣传工作<tspan x="204.8" dy="9.55">。</tspan></text>
<text class="t" x="204.8" y="2708.8">3、加强和外界接触人员的专业知识培训和素<tspan x="204.8" dy="9.55">质教育工作，树立良好的企业员工形象和先进</tspan><tspan x="204.8" dy="9.55">的企业文化内涵。</tspan></text>
<text class="t e" x="419.4" y="2864.4">三、客户接待</text>
<text class="t" x="204.8" y="2760.6">1、督促全体人员始终以热诚为原则，有礼有<tspan x="204.8" dy="9.55">节地做好各方面客人的接待工作，确保接待效</tspan><tspan x="204.8" dy="9.55">果一年好于一年。</tspan></text>
<text class="t" x="204.8" y="2813">2、在确保客户接待效果的提前下，将尽可能<tspan x="204.8" dy="9.55">地节省接待费用，以降低公司的整体经营成本</tspan><tspan x="204.8" dy="9.55">，提高公司利润水平。</tspan></text>
<text class="t" x="204.8" y="2864.9">3、继续做好来访客户的接待档案管理工作，<tspan x="204.8" dy="9.55">将潜在顾客和合同顾客的档案分类保存，准确</tspan><tspan x="204.8" dy="9.55">掌握项目进程，努力配合商务部门和办事处促</tspan><tspan x="204.8" dy="9.55">成项目业务。</tspan></text>
<text class="t" x="204.8" y="2952.4">4、调整部门人员岗位，招聘高素质的人员充<tspan x="204.8" dy="9.55">实接待力量。</tspan></text>
<text class="t" x="35.3" y="2926.2">为了适应公司业务发展的需要，更好地做好接<tspan x="35.3" dy="9.55">待工作，落实好人员招聘工作也是一件十分重</tspan><tspan x="35.3" dy="9.55">要的事情。</tspan></text>
<text class="t e" x="183.7" y="2978.6">人事行政文员工作计划范文</text>
<text class="t" x="440.9" y="3288.8">行政人事文员在20XX年里除做好日常管理工<tspan x="440.9" dy="9.55">作外，重点做好以下几方面的工作，这也是2</tspan><tspan x="440.9" dy="9.55">0XX年上半年工作的主要计划：</tspan></text>
<text class="t e" x="419.4" y="3120.1">一、人事工作</text>
<text class="t" x="204.8" y="3011.1">1、完善部门、人员岗位职责及做好人员岗前<tspan x="204.8" dy="9.55">培训计划；及时了解员工工作状态，做好人员</tspan><tspan x="204.8" dy="9.55">流动率的控制，适时进行招聘工作的展开；</tspan></text>
<text class="t" x="204.8" y="3063">2、加强现场6s管理，加强现场管理的学习及<tspan x="204.8" dy="9.55">实践；</tspan></text>
<text class="t" x="204.8" y="3105.4">3、根据市场情况、配合公司完成20XX年度<tspan x="204.8" dy="9.55">薪资政策；</tspan></text>
<text class="t e" x="353.7" y="3147.8">4、人事行政经验的学习、积累；</text>
<text class="t e" x="353.7" y="3180.9">5、按规定时间审验公司证照；</text>
<text class="t" x="204.8" y="3213.9">6、根据公司的状况随时接受公司安排的工作<tspan x="204.8" dy="9.55">内容。</tspan></text>
<text class="t e" x="419.4" y="3479">二、行政工作</text>
<text class="t" x="204.8" y="3256.3">1、督促全体人员始终以热诚为原则，有礼有<tspan x="204.8" dy="9.55">节地做好各方面客人的接待工作，确保接待效</tspan><tspan x="204.8" dy="9.55">果一年好于一年；</tspan></text>
<text class="t" x="204.8" y="3308.5">2、在确保客户接待效果的提前下，将尽可能<tspan x="204.8" dy="9.55">地节省接待费用，以降低公司的整体经营成本</tspan><tspan x="204.8" dy="9.55">，提高公司利润水平；</tspan></text>
<text class="t" x="204.8" y="3360.5">3、继续做好来访客户的接待档案管理工作，<tspan x="204.8" dy="9.55">将潜在顾客和合同顾客的档案分类保存，准确</tspan><tspan x="204.8" dy="9.55">掌握项目进程，努力配合商务部门和办事处促</tspan><tspan x="204.8" dy="9.55">成项目业务；</tspan></text>
<text class="t" x="204.8" y="3422.3">4、调整部门人员岗位，招聘高素质的人员充<tspan x="204.8" dy="9.55">实接待力量。随着业务量的不断扩大，来访客</tspan><tspan x="204.8" dy="9.55">户也日渐增多，市场部负责接待的人员明显不</tspan><tspan x="204.8" dy="9.55">足。为了适应公司业务发展的需要，更好地做</tspan><tspan x="204.8" dy="9.55">好接待工作，落实好人员招聘工作也是一件十</tspan><tspan x="204.8" dy="9.55">分重要的事情。</tspan></text>
<text class="t" x="204.8" y="3502.6">5、负责总务管理。没有后勤的保障，就保证<tspan x="204.8" dy="9.55">不了生产稳定正常的进行。首先要制定相关制</tspan><tspan x="204.8" dy="9.55">度，加强对宿舍、食堂、水电、办公用品、零</tspan><tspan x="204.8" dy="9.55">星修缮、部分固定资产、卫生、环境、车辆的</tspan><tspan x="204.8" dy="9.55">管理。</tspan></text>
<text class="t" x="204.8" y="3573.7">6、安全保卫。加强对人员进出、公务访客、<tspan x="204.8" dy="9.55">车辆物品出入、消防安全、防盗防灾、职业安</tspan><tspan x="204.8" dy="9.55">全防护等的管理，同时对员工进行安全教育，</tspan><tspan x="204.8" dy="9.55">贯彻"安全第一""预防为主"的指导思想，创造</tspan><tspan x="204.8" dy="9.55">一个安宁祥和的工作、生活环境，保证公司员</tspan><tspan x="204.8" dy="9.55">工的生命财产安全。</tspan></text>
<text class="t" x="204.8" y="3654.1">7、强调企业精神，创建公司的企业文化。企<tspan x="204.8" dy="9.55">业文化不但能反映出企业生产经营活动中的战</tspan><tspan x="204.8" dy="9.55">略目标，群体意识价值观念和道德规范，还能</tspan><tspan x="204.8" dy="9.55">凝集企业员工的归属感、积极性和创造性，引</tspan><tspan x="204.8" dy="9.55">导企业员工为企业和社会的发展而努力，同时</tspan><tspan x="204.8" dy="9.55">企业文化还具有两种约束力，一种是硬的约束</tspan><tspan x="204.8" dy="9.55">力、制度，一种是软的约束力、无形的，就是</tspan><tspan x="204.8" dy="9.55">活跃企业的文化生活，良好的生活环境和业余</tspan><tspan x="204.8" dy="9.55">文化生活。</tspan></text>
</g>

<g id="watermarks">
<text class="w" x="430" y="360" transform="rotate(-30 430 341)">树图 shutu.cn</text>
<text class="w" x="430" y="1037" transform="rotate(-30 430 1018)">树图 shutu.cn</text>
<text class="w" x="430" y="1691" transform="rotate(-30 430 1672)">树图 shutu.cn</text>
<text class="w" x="430" y="2349" transform="rotate(-30 430 2330)">树图 shutu.cn</text>
<text class="w" x="430" y="3014" transform="rotate(-30 430 2995)">树图 shutu.cn</text>
<text class="w" x="430" y="3703" transform="rotate(-30 430 3684)">树图 shutu.cn</text>
<text class="w" x="1288" y="367" transform="rotate(-30 1288 348)">树图 shutu.cn</text>
<text class="w" x="1288" y="1034" transform="rotate(-30 1288 1015)">树图 shutu.cn</text>
<text class="w" x="1288" y="1689" transform="rotate(-30 1288 1670)">树图 shutu.cn</text>
<text class="w" x="1288" y="2367" transform="rotate(-30 1288 2348)">树图 shutu.cn</text>
<text class="w" x="1288" y="3037" transform="rotate(-30 1288 3018)">树图 shutu.cn</text>
<text class="w" x="1288" y="3707" transform="rotate(-30 1288 3688)">树图 shutu.cn</text>
</g>
</svg>
